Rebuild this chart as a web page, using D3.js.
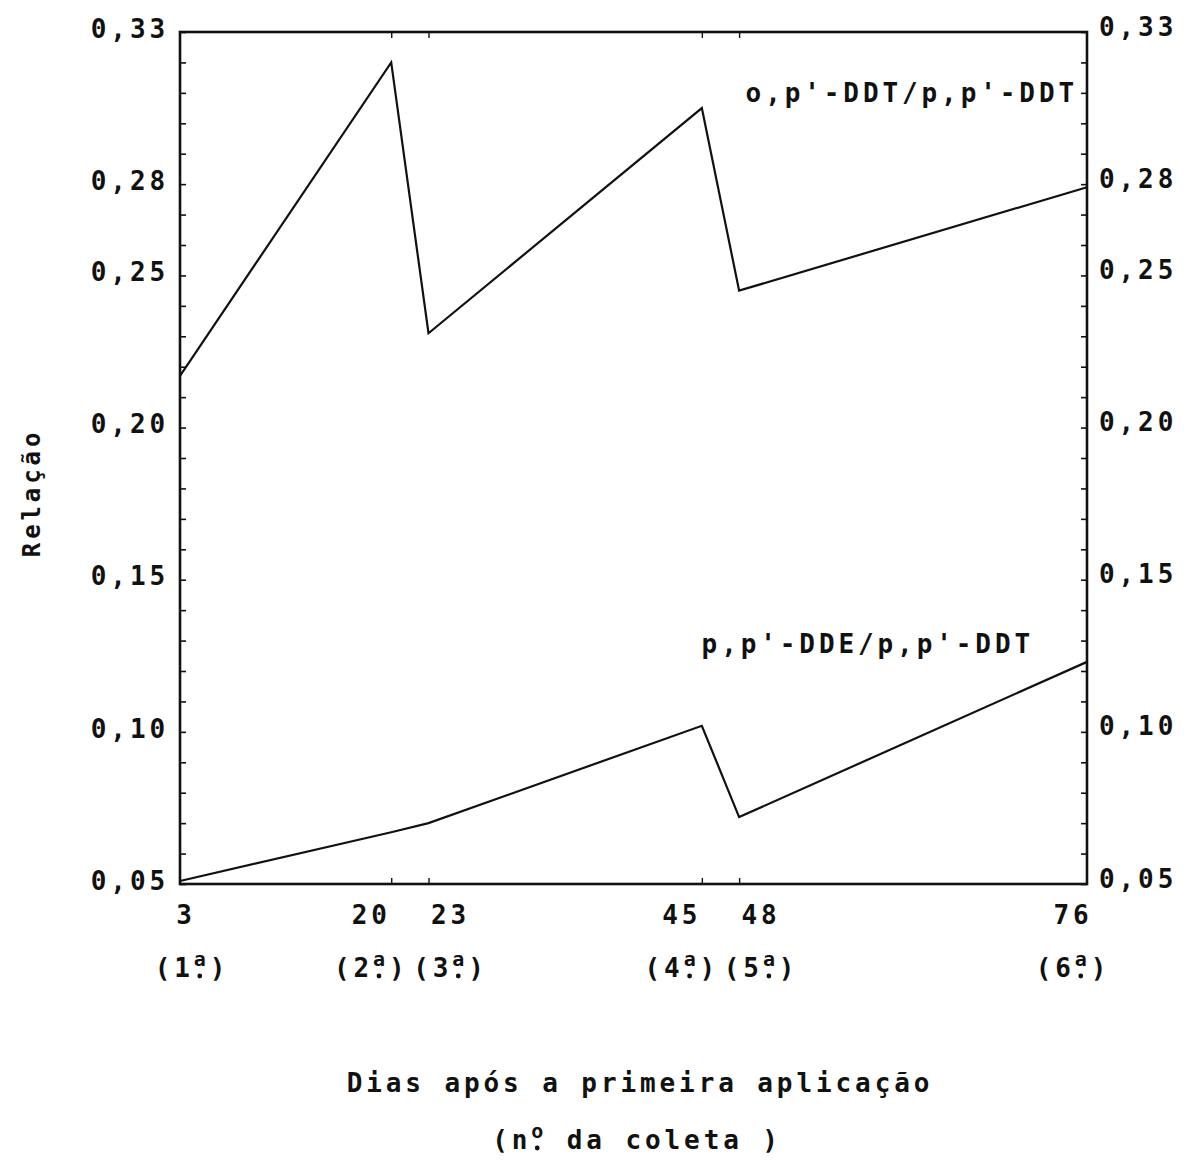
<!DOCTYPE html>
<html>
<head>
<meta charset="utf-8">
<script src="https://cdn.jsdelivr.net/npm/d3@7"></script>
<style>
  body { margin: 0; background: #fff; }
  svg text { font-family: "DejaVu Sans Mono", monospace; font-weight: bold; fill: #111; letter-spacing: 3.9px; }
</style>
</head>
<body>
<div id="chart"></div>
<script>
// Data
const days = [3, 20, 23, 45, 48, 76];
const collections = ["1", "2", "3", "4", "5", "6"];
const opDDT = [0.217, 0.320, 0.231, 0.305, 0.245, 0.279];   // o,p'-DDT/p,p'-DDT
const ppDDE = [0.051, 0.067, 0.070, 0.102, 0.072, 0.123];   // p,p'-DDE/p,p'-DDT
const yLabels = [0.05, 0.10, 0.15, 0.20, 0.25, 0.28, 0.33];

// Chart dimensions
const width = 1188;
const height = 1162;
const margin = {top: 32, right: 101, bottom: 278, left: 180};
const fontSize = 26;

const svg = d3.select("#chart").append("svg")
  .attr("width", width)
  .attr("height", height)
  .attr("viewBox", [0, 0, width, height]);

const x = d3.scaleLinear()
  .domain([d3.min(days), d3.max(days)])
  .range([margin.left, width - margin.right]);

const y = d3.scaleLinear()
  .domain([0.05, 0.33])
  .range([height - margin.bottom, margin.top]);

const locale = d3.formatLocale({decimal: ",", thousands: ".", grouping: [3], currency: ["", ""]});
const fmt = locale.format(".2f");

// minor ticks every 0.01, labels only on the typed values
const yTicks = d3.range(5, 34).map(d => d / 100);
const isLabel = v => yLabels.some(l => Math.abs(l - v) < 1e-6);

// Left axis
svg.append("g")
  .attr("transform", `translate(${margin.left},0)`)
  .call(d3.axisLeft(y).tickValues(yTicks).tickSizeInner(-6).tickSizeOuter(0).tickPadding(11)
    .tickFormat(d => isLabel(d) ? fmt(d) : ""))
  .call(g => g.select(".domain").remove())
  .call(g => g.selectAll("line").attr("stroke", "#111").attr("stroke-width", 1.6))
  .call(g => g.selectAll("text").attr("font-size", fontSize).attr("dy", "0.2em"));

// Right axis
svg.append("g")
  .attr("transform", `translate(${width - margin.right},0)`)
  .call(d3.axisRight(y).tickValues(yTicks).tickSizeInner(-6).tickSizeOuter(0).tickPadding(12)
    .tickFormat(d => isLabel(d) ? fmt(d) : ""))
  .call(g => g.select(".domain").remove())
  .call(g => g.selectAll("line").attr("stroke", "#111").attr("stroke-width", 1.6))
  .call(g => g.selectAll("text").attr("font-size", fontSize).attr("dy", "0.12em"));

// Small ticks at the sampling days on top and bottom
svg.append("g")
  .attr("transform", `translate(0,${margin.top})`)
  .call(d3.axisTop(x).tickValues(days.slice(1, -1)).tickSizeInner(-6).tickSizeOuter(0).tickFormat(""))
  .call(g => g.select(".domain").remove())
  .call(g => g.selectAll("line").attr("stroke", "#111").attr("stroke-width", 1.4));

svg.append("g")
  .attr("transform", `translate(0,${height - margin.bottom})`)
  .call(d3.axisBottom(x).tickValues(days.slice(1, -1)).tickSizeInner(-6).tickSizeOuter(0).tickFormat(""))
  .call(g => g.select(".domain").remove())
  .call(g => g.selectAll("line").attr("stroke", "#111").attr("stroke-width", 1.4));

// Frame
svg.append("rect")
  .attr("x", x.range()[0])
  .attr("y", y.range()[1])
  .attr("width", x.range()[1] - x.range()[0])
  .attr("height", y.range()[0] - y.range()[1])
  .attr("fill", "none")
  .attr("stroke", "#111")
  .attr("stroke-width", 2.6);

// Lines
const line = d3.line()
  .x((d, i) => x(days[i]))
  .y(d => y(d));

for (const series of [opDDT, ppDDE]) {
  svg.append("path")
    .datum(series)
    .attr("fill", "none")
    .attr("stroke", "#111")
    .attr("stroke-width", 2.2)
    .attr("stroke-linejoin", "miter")
    .attr("d", line);
}

// Series labels
svg.append("text")
  .attr("x", x(76) - 9)
  .attr("y", y(0.31))
  .attr("dy", "0.35em")
  .attr("text-anchor", "end")
  .attr("font-size", fontSize)
  .text("o,p'-DDT/p,p'-DDT");

svg.append("text")
  .attr("x", x(76) - 53)
  .attr("y", y(0.129))
  .attr("dy", "0.35em")
  .attr("text-anchor", "end")
  .attr("font-size", fontSize)
  .text("p,p'-DDE/p,p'-DDT");

// x labels: push apart labels whose ticks are too close
function nudge(i) {
  const px = x(days[i]);
  let dx = 0;
  if (i === 0) dx = 6;
  if (i === days.length - 1) dx = -14;
  if (i < days.length - 1 && x(days[i + 1]) - px < 60) dx = -20;
  if (i > 0 && px - x(days[i - 1]) < 60) dx = 22;
  return px + dx;
}

const xl = svg.append("g");
xl.selectAll("text.day")
  .data(days)
  .join("text")
    .attr("class", "day")
    .attr("x", (d, i) => nudge(i))
    .attr("y", 915)
    .attr("dy", "0.35em")
    .attr("text-anchor", "middle")
    .attr("font-size", fontSize)
    .text(d => d);

// ordinal like "(1ª)": raised a, with a dot drawn under it
function ordinal(t, pre, sup, post) {
  t.append("tspan").text(pre);
  t.append("tspan").attr("font-size", 20).attr("dy", -11).text(sup);
  t.append("tspan").attr("dy", 11).text(post);
  const node = t.node();
  const box = node.getExtentOfChar(pre.length);
  svg.append("circle")
    .attr("cx", box.x + box.width / 2 - 2)
    .attr("cy", +t.attr("y") + 8)
    .attr("r", 2.4)
    .attr("fill", "#111");
}

xl.selectAll("text.col")
  .data(collections)
  .join("text")
    .attr("class", "col")
    .attr("x", (d, i) => nudge(i) + (i === 0 ? 6 : 0))
    .attr("y", 968)
    .attr("dy", "0.35em")
    .attr("text-anchor", "middle")
    .attr("font-size", fontSize)
    .each(function(d) { ordinal(d3.select(this), "(" + d, "a", ")"); });

// Axis titles
svg.append("text")
  .attr("x", 640)
  .attr("y", 1083)
  .attr("dy", "0.35em")
  .attr("text-anchor", "middle")
  .attr("font-size", fontSize)
  .text("Dias após a primeira aplicação");

const sub = svg.append("text")
  .attr("x", 637)
  .attr("y", 1140)
  .attr("dy", "0.35em")
  .attr("text-anchor", "middle")
  .attr("font-size", fontSize);
ordinal(sub, "(n", "o", " da coleta )");

svg.append("text")
  .attr("transform", `translate(32,${(y.range()[0] + y.range()[1]) / 2 + 35}) rotate(-90)`)
  .attr("dy", "0.35em")
  .attr("text-anchor", "middle")
  .attr("font-size", 24)
  .text("Relação");
</script>
</body>
</html>
